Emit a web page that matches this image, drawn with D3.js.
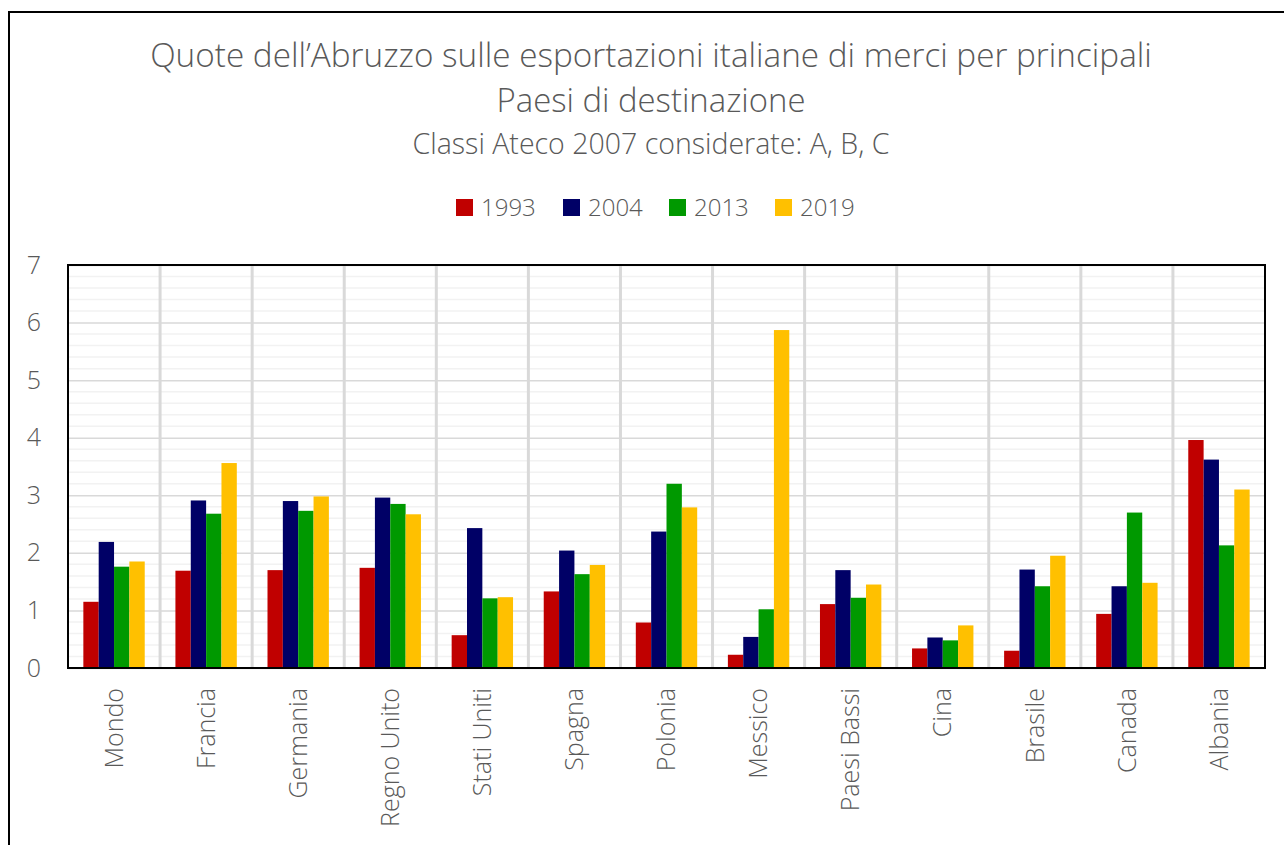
<!DOCTYPE html>
<html>
<head>
<meta charset="utf-8">
<script src="https://cdn.jsdelivr.net/npm/d3@7/dist/d3.min.js"></script>
<style>
  html, body { margin: 0; padding: 0; background: #fff; }
  svg text { font-family: 'Open Sans', sans-serif; font-weight: 300; fill: #595959; }
</style>
</head>
<body>
<div id="chart"></div>
<script>
// Quote dell'Abruzzo sulle esportazioni italiane
const countries = ['Mondo', 'Francia', 'Germania', 'Regno Unito', 'Stati Uniti', 'Spagna', 'Polonia',
  'Messico', 'Paesi Bassi', 'Cina', 'Brasile', 'Canada', 'Albania']
const years = ['1993', '2004', '2013', '2019']
const values1993 = [1.15, 1.69, 1.70, 1.74, 0.57, 1.33, 0.79, 0.23, 1.11, 0.34, 0.30, 0.94, 3.96]
const values2004 = [2.19, 2.91, 2.90, 2.96, 2.43, 2.04, 2.37, 0.54, 1.70, 0.53, 1.71, 1.42, 3.62]
const values2013 = [1.76, 2.68, 2.73, 2.85, 1.21, 1.63, 3.20, 1.02, 1.22, 0.48, 1.42, 2.70, 2.13]
const values2019 = [1.85, 3.56, 2.98, 2.67, 1.23, 1.79, 2.79, 5.87, 1.45, 0.74, 1.95, 1.48, 3.10]
const yTicks = [0, 1, 2, 3, 4, 5, 6, 7]
const colors = ['#C00000', '#000066', '#009900', '#FFC000']

const series = [values1993, values2004, values2013, values2019]
const rows = countries.map((c, i) => ({
  name: c,
  bars: years.map((yr, j) => ({ year: yr, value: series[j][i], color: colors[j] })),
}))

const W = 1284
const H = 845
const plot = { left: 68, right: 1265, top: 265, bottom: 668 }

const svg = d3.select('#chart').append('svg').attr('width', W).attr('height', H)

// outer chart frame
svg.append('rect')
  .attr('x', 9).attr('y', 12)
  .attr('width', 1300).attr('height', 900)
  .attr('fill', '#fff').attr('stroke', '#000').attr('stroke-width', 2)

// scales
const x0 = d3.scaleBand().domain(countries).range([plot.left, plot.right]).padding(0)
const bw = x0.bandwidth()
const x1 = d3.scaleBand().domain(years).range([bw / 6, bw * 5 / 6]).padding(0)
const y = d3.scaleLinear().domain([0, 7]).range([plot.bottom, plot.top])

// minor gridlines every 0.2
const minor = d3.range(0, 7.01, 0.2).filter((v) => Math.abs(v - Math.round(v)) > 0.01)
svg.append('g').selectAll('line').data(minor).enter().append('line')
  .attr('x1', plot.left).attr('x2', plot.right)
  .attr('y1', (d) => y(d)).attr('y2', (d) => y(d))
  .attr('stroke', '#f2f2f2').attr('stroke-width', 1.5)

// major gridlines
svg.append('g')
  .attr('transform', `translate(${plot.left},0)`)
  .call(d3.axisLeft(y).tickValues(yTicks).tickSize(-(plot.right - plot.left)).tickFormat(''))
  .call((g) => g.select('.domain').remove())
  .selectAll('line').attr('stroke', '#d9d9d9').attr('stroke-width', 1.5)

// vertical separators between categories
svg.append('g').selectAll('line').data(countries.slice(1)).enter().append('line')
  .attr('x1', (d) => x0(d)).attr('x2', (d) => x0(d))
  .attr('y1', plot.top).attr('y2', plot.bottom)
  .attr('stroke', '#d9d9d9').attr('stroke-width', 3)

// bars
const groups = svg.append('g').selectAll('g').data(rows).enter().append('g')
  .attr('transform', (d) => `translate(${x0(d.name)},0)`)
groups.selectAll('rect').data((d) => d.bars).enter().append('rect')
  .attr('x', (d) => x1(d.year))
  .attr('y', (d) => y(d.value))
  .attr('width', x1.bandwidth())
  .attr('height', (d) => y(0) - y(d.value))
  .attr('fill', (d) => d.color)

// plot border
svg.append('rect')
  .attr('x', plot.left).attr('y', plot.top)
  .attr('width', plot.right - plot.left).attr('height', plot.bottom - plot.top)
  .attr('fill', 'none').attr('stroke', '#000').attr('stroke-width', 2)

// y axis labels
svg.append('g')
  .attr('transform', 'translate(41,0)')
  .call(d3.axisLeft(y).tickValues(yTicks).tickFormat(d3.format('d')).tickSize(0).tickPadding(0))
  .call((g) => g.select('.domain').remove())
  .selectAll('text')
  .style('font-size', '25px')
  .style('font-family', "'Open Sans', sans-serif")
  .attr('fill', '#595959')

// x axis labels, rotated
svg.append('g')
  .attr('transform', `translate(0,${plot.bottom})`)
  .call(d3.axisBottom(x0).tickSize(0).tickPadding(0))
  .call((g) => g.select('.domain').remove())
  .selectAll('text')
  .style('font-size', '25px')
  .style('font-family', "'Open Sans', sans-serif")
  .attr('fill', '#595959')
  .attr('transform', 'translate(0,20) rotate(-90)')
  .attr('dy', '0.35em')
  .attr('y', 0)
  .style('text-anchor', 'end')

// fit a text element to a given width by rescaling its font size
function fitText(t, width) {
  const size = parseFloat(t.style('font-size'))
  const len = t.node().getComputedTextLength()
  t.style('font-size', (size * width / len).toFixed(2) + 'px')
}

// titles
const cx = 651
const t1 = svg.append('text').attr('x', cx).attr('y', 67).attr('text-anchor', 'middle')
  .style('font-size', '30px').text('Quote dell’Abruzzo sulle esportazioni italiane di merci per principali')
fitText(t1, 1002)
const t2 = svg.append('text').attr('x', cx).attr('y', 112).attr('text-anchor', 'middle')
  .style('font-size', '30px').text('Paesi di destinazione')
fitText(t2, 309)
const t3 = svg.append('text').attr('x', cx).attr('y', 154).attr('text-anchor', 'middle')
  .style('font-size', '22px').text('Classi Ateco 2007 considerate: A, B, C')
fitText(t3, 477)

// legend
const legendX = [456, 563, 669, 775]
const legend = svg.append('g').selectAll('g').data(years).enter().append('g')
  .attr('transform', (d, i) => `translate(${legendX[i]},199)`)
legend.append('rect')
  .attr('width', 17).attr('height', 17)
  .attr('fill', (d, i) => colors[i])
legend.append('text')
  .attr('x', 25).attr('y', 17)
  .style('font-size', '24px')
  .text((d) => d)
</script>
</body>
</html>
